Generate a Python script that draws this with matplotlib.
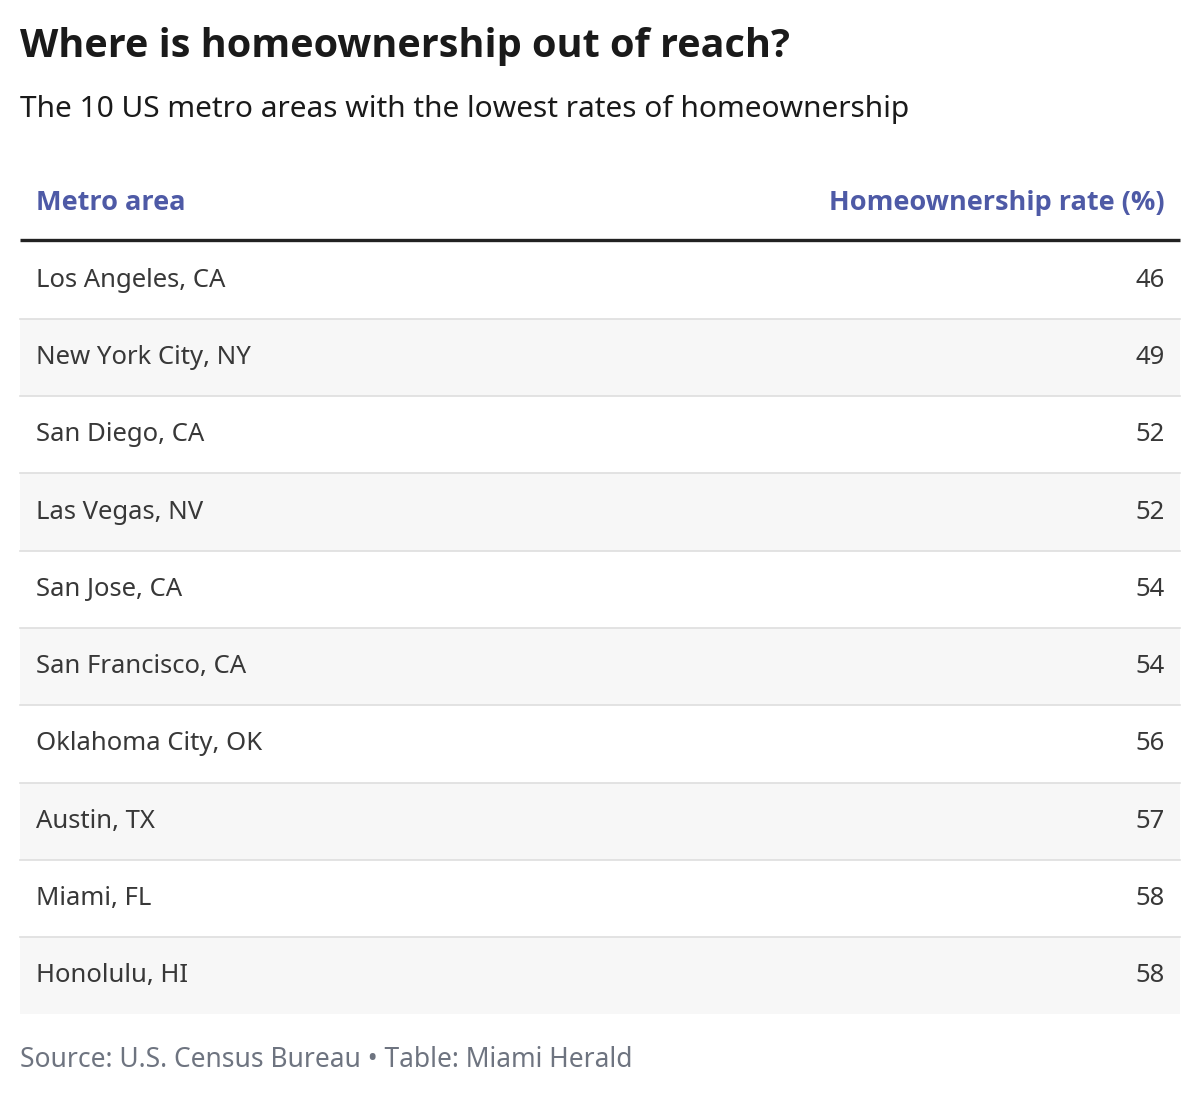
import matplotlib
matplotlib.use("Agg")
import matplotlib.pyplot as plt
from matplotlib.patches import Rectangle

metros = ["Los Angeles, CA", "New York City, NY", "San Diego, CA", "Las Vegas, NV",
          "San Jose, CA", "San Francisco, CA", "Oklahoma City, OK", "Austin, TX",
          "Miami, FL", "Honolulu, HI"]
rates = [46, 49, 52, 52, 54, 54, 56, 57, 58, 58]

plt.rcParams['font.family'] = ['Noto Sans', 'DejaVu Sans']
BOLD = ['Open Sans', 'DejaVu Sans']
W, H = 1200, 1095
fig = plt.figure(figsize=(W/100, H/100), dpi=100)
ax = fig.add_axes([0, 0, 1, 1])
ax.set_xlim(0, W); ax.set_ylim(H, 0); ax.axis('off')

ax.text(20, 47, "Where is homeownership out of reach?", fontsize=28.5, fontweight='bold',
        family=BOLD, color='#1a1a1a', va='center')
ax.text(20, 109, "The 10 US metro areas with the lowest rates of homeownership", fontsize=21.5,
        color='#1a1a1a', va='center')
hc = '#4e5aa6'
ax.text(36, 203, "Metro area", fontsize=19.5, fontweight='bold', family=BOLD, color=hc, va='center')
ax.text(1165, 203, "Homeownership rate (%)", fontsize=19.5, fontweight='bold', family=BOLD,
        color=hc, va='center', ha='right')
ax.plot([20, 1180], [240, 240], color='#222222', lw=2.4, solid_capstyle='butt')

top, rh = 241.5, 77.3
for i, (m, r) in enumerate(zip(metros, rates)):
    y0 = top + i*rh
    if i % 2 == 1:
        ax.add_patch(Rectangle((20, y0), 1160, rh, color='#f7f7f7', lw=0))
    if i > 0:
        ax.plot([20, 1180], [y0, y0], color='#dedede', lw=1.2)
    yc = y0 + rh/2
    ax.text(36, yc, m, fontsize=18.5, color='#383838', va='center')
    ax.text(1165, yc, str(r), fontsize=18.5, color='#383838', va='center', ha='right')

ax.text(20, 1060, "Source: U.S. Census Bureau • Table: Miami Herald", fontsize=19,
        color='#6e7480', va='center')
fig.savefig("out.png", dpi=100, facecolor='white')
